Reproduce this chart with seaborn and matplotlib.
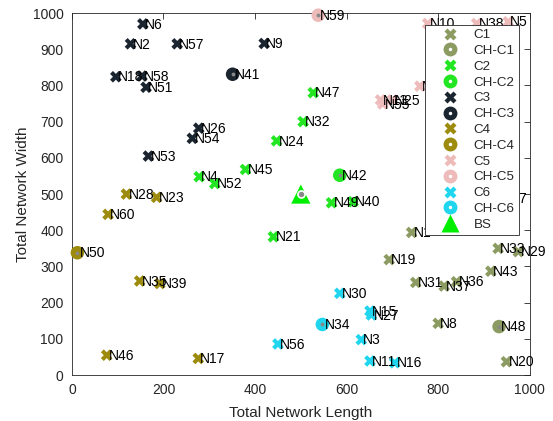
import matplotlib
matplotlib.use("Agg")
import matplotlib.pyplot as plt
from matplotlib.lines import Line2D
from matplotlib.legend_handler import HandlerTuple
import seaborn as sns
import pandas as pd

sns.set_style("white")
plt.rcParams["font.family"] = ["Liberation Sans", "DejaVu Sans"]

# Cluster members: name, length (x), width (y)
c1_names = ["N1", "N19", "N31", "N37", "N36", "N43", "N29", "N33", "N8", "N20", "N7"]
c1_x = [742, 693, 751, 813, 840, 915, 975, 931, 800, 949, 952]
c1_y = [394, 319, 256, 246, 258, 287, 341, 350, 143, 37, 489]
ch1 = ("N48", 933, 134)

c2_names = ["N4", "N52", "N45", "N24", "N32", "N47", "N49", "N40", "N21"]
c2_x = [278, 312, 379, 447, 505, 527, 567, 614, 440]
c2_y = [548, 529, 568, 647, 700, 780, 476, 479, 382]
ch2 = ("N42", 585, 552)

c3_names = ["N6", "N2", "N57", "N9", "N18", "N58", "N51", "N26", "N54", "N53"]
c3_x = [155, 128, 230, 420, 96, 153, 162, 277, 263, 167]
c3_y = [970, 915, 915, 916, 824, 826, 795, 682, 654, 605]
ch3 = ("N41", 351, 831)

c4_names = ["N28", "N23", "N60", "N35", "N39", "N46", "N17"]
c4_x = [119, 185, 79, 148, 192, 76, 276]
c4_y = [500, 491, 444, 260, 253, 55, 46]
ch4 = ("N50", 12, 338)

c5_names = ["N10", "N38", "N5", "N44", "N13", "N25", "N55"]
c5_x = [777, 884, 953, 760, 674, 700, 679]
c5_y = [971, 971, 976, 798, 760, 760, 749]
ch5 = ("N59", 538, 994)

c6_names = ["N56", "N30", "N15", "N27", "N3", "N11", "N16"]
c6_x = [450, 585, 651, 654, 632, 651, 705]
c6_y = [86, 226, 177, 166, 98, 39, 34]
ch6 = ("N34", 547, 140)

bs_x, bs_y = 500, 500

cluster_colors = ["#8c9b62", "#22e622", "#1b2530", "#9c8b0c", "#eebbbb", "#1fd6ee"]
bs_color = "#00ee00"

clusters = [
    (c1_names, c1_x, c1_y, ch1),
    (c2_names, c2_x, c2_y, ch2),
    (c3_names, c3_x, c3_y, ch3),
    (c4_names, c4_x, c4_y, ch4),
    (c5_names, c5_x, c5_y, ch5),
    (c6_names, c6_x, c6_y, ch6),
]

fig, ax = plt.subplots(figsize=(5.53, 4.21), dpi=100)
fig.subplots_adjust(left=0.130, right=0.958, bottom=0.109, top=0.969)

x_size = 70
ch_size = 95
handles, labels = [], []
for i, ((names, xs, ys, ch), col) in enumerate(zip(clusters, cluster_colors), start=1):
    df = pd.DataFrame({"x": xs, "y": ys, "name": names})
    sns.scatterplot(data=df, x="x", y="y", marker="X", s=x_size, color=col,
                    edgecolor="none", linewidth=0, ax=ax, legend=False,
                    zorder=3, clip_on=False)
    chdf = pd.DataFrame({"x": [ch[1]], "y": [ch[2]], "name": [ch[0]]})
    sns.scatterplot(data=chdf, x="x", y="y", marker="o", s=ch_size, color=col,
                    edgecolor="none", linewidth=0, ax=ax, legend=False,
                    zorder=3, clip_on=False)
    ax.scatter(chdf["x"], chdf["y"], marker="o", s=3, color="#888888",
               zorder=4, clip_on=False)
    for n, xv, yv in zip(list(df["name"]) + [ch[0]], list(df["x"]) + [ch[1]],
                         list(df["y"]) + [ch[2]]):
        ax.annotate(n, (xv, yv), xytext=(1.5, -0.5), textcoords="offset points",
                    fontsize=10, va="center", ha="left", color="black", zorder=5)
    handles.append(Line2D([], [], marker="X", linestyle="none", markersize=9,
                          markerfacecolor=col, markeredgecolor="none"))
    labels.append(f"C{i}")
    handles.append((Line2D([], [], marker="o", linestyle="none", markersize=10,
                           markerfacecolor=col, markeredgecolor="none"),
                    Line2D([], [], marker="o", linestyle="none", markersize=2.5,
                           markerfacecolor="white", markeredgecolor="none")))
    labels.append(f"CH-C{i}")

# Base station
bsdf = pd.DataFrame({"x": [bs_x], "y": [bs_y]})
sns.scatterplot(data=bsdf, x="x", y="y", marker="^", s=190, color=bs_color,
                edgecolor="none", linewidth=0, ax=ax, legend=False, zorder=3)
ax.scatter([bs_x], [bs_y], marker="o", s=28, color="white", zorder=4)
ax.scatter([bs_x], [bs_y], marker="o", s=8, color="#888888", zorder=5)
handles.append(Line2D([], [], marker="^", linestyle="none", markersize=13,
                      markerfacecolor=bs_color, markeredgecolor="none"))
labels.append("BS")

ax.set_xlim(0, 1000)
ax.set_ylim(0, 1000)
ax.set_xticks(range(0, 1001, 200))
ax.set_yticks(range(0, 1001, 100))
ax.set_xlabel("Total Network Length", fontsize=11, color="#262626", labelpad=6)
ax.set_ylabel("Total Network Width", fontsize=11, color="#262626", labelpad=2)
ax.tick_params(direction="in", length=4, width=0.6, top=True, right=True,
               labelsize=10, colors="#262626", pad=6)
for sp in ax.spines.values():
    sp.set_visible(True)
    sp.set_color("#262626")
    sp.set_linewidth(0.6)

leg = ax.legend(handles, labels, loc="upper right", bbox_to_anchor=(0.976, 0.968),
                borderaxespad=0, fontsize=9.6, frameon=True, fancybox=False,
                framealpha=1, edgecolor="#262626", labelspacing=0.26,
                handletextpad=0.3, borderpad=0.32, handlelength=3.0,
                handler_map={tuple: HandlerTuple(ndivide=1)})
leg.get_frame().set_linewidth(0.6)
leg.set_zorder(10)

fig.savefig("out.png", dpi=100)
